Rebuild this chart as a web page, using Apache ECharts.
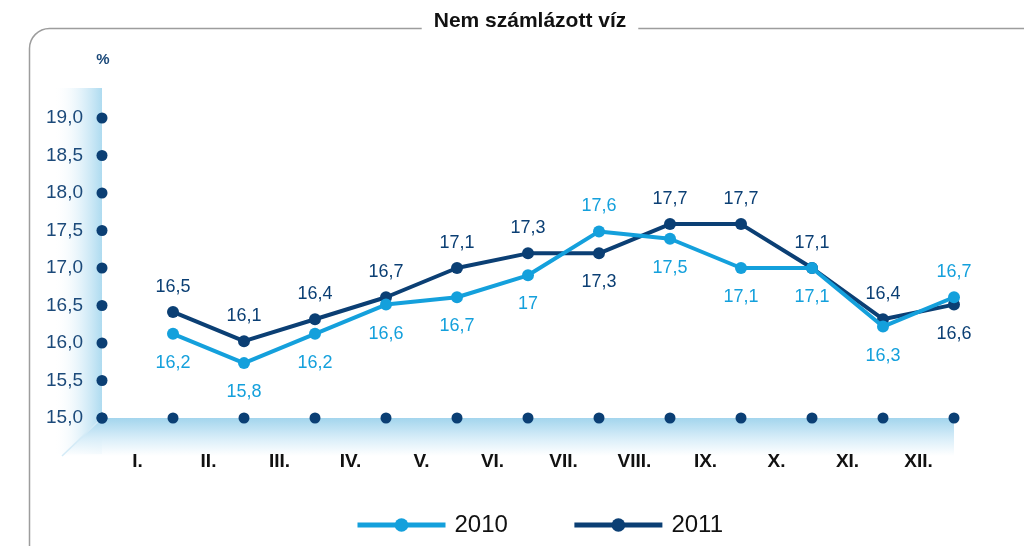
<!DOCTYPE html>
<html>
<head>
<meta charset="utf-8">
<script src="https://cdn.jsdelivr.net/npm/echarts@6/dist/echarts.min.js"></script>
<style>
html,body{margin:0;padding:0;background:#fff;}
#chart{width:1024px;height:546px;}
</style>
</head>
<body>
<div id="chart"></div>
<script>
// ---- data ----
const months = ['I.','II.','III.','IV.','V.','VI.','VII.','VIII.','IX.','X.','XI.','XII.'];
const values2010 = [16.2, 15.8, 16.2, 16.6, 16.7, 17, 17.6, 17.5, 17.1, 17.1, 16.3, 16.7];
const values2011 = [16.5, 16.1, 16.4, 16.7, 17.1, 17.3, 17.3, 17.7, 17.7, 17.1, 16.4, 16.6];
const yTicks = [15.0, 15.5, 16.0, 16.5, 17.0, 17.5, 18.0, 18.5, 19.0];
const titleText = 'Nem számlázott víz';
const unitText = '%';

// ---- style ----
const C2010 = '#14a0dc';
const C2011 = '#0b3f74';
const AXIS_BLUE = '#1c4a7a';
const FONT = '"Liberation Sans", Arial, sans-serif';
const GL = 102, GR = 70, GT = 118, GB = 128;
const W = 1024, H = 546;
const gx0 = GL, gx1 = W - GR, gy0 = GT, gy1 = H - GB;

const chart = echarts.init(document.getElementById('chart'), null, {renderer: 'canvas'});

function fmt(v){ return String(v).replace('.', ','); }

function seriesData(vals, other, isUpper){
  const out = [null];
  vals.forEach((v, i) => {
    const top = isUpper ? v >= other[i] : v > other[i];
    out.push({
      value: v,
      label: {
        position: top ? 'top' : 'bottom',
        distance: top ? 10 : 14
      }
    });
  });
  return out;
}

const axisDotsY = yTicks.map(t => [0, t]);
const axisDotsX = ['', ...months].map((m, i) => [i, yTicks[0]]);

const option = {
  animation: false,
  backgroundColor: '#fff',
  grid: {left: GL, right: GR, top: GT, bottom: GB, containLabel: false},
  legend: {
    data: ['2010', '2011'],
    left: 350,
    top: 508,
    itemWidth: 88,
    itemHeight: 17,
    itemGap: 64,
    lineStyle: {width: 5},
    textStyle: {fontFamily: FONT, fontSize: 24, color: '#111', padding: [0, 0, 0, 4]}
  },
  xAxis: [
    {
      type: 'category',
      data: ['', ...months],
      boundaryGap: false,
      axisLine: {show: false},
      axisTick: {show: false},
      axisLabel: {show: false},
      splitLine: {show: false}
    },
    {
      type: 'category',
      data: months,
      boundaryGap: true,
      position: 'bottom',
      axisLine: {show: false},
      axisTick: {show: false},
      splitLine: {show: false},
      axisLabel: {
        margin: 34,
        fontFamily: FONT, fontSize: 19, fontWeight: 'bold', color: '#111'
      }
    }
  ],
  yAxis: [
    {
      type: 'value',
      min: 15, max: 19, interval: 0.5,
      axisLine: {show: false},
      axisTick: {show: false},
      splitLine: {show: false},
      axisLabel: {
        margin: 19,
        fontFamily: FONT, fontSize: 19, color: AXIS_BLUE,
        formatter: v => v.toFixed(1).replace('.', ',')
      }
    },
    {
      type: 'value',
      min: 15.05, max: 19.15,
      show: false
    }
  ],
  graphic: [
    {type: 'rect', z: -10, silent: true,
      shape: {x: 29.5, y: 28.5, width: 1040, height: 540, r: 20},
      style: {fill: 'none', stroke: '#9d9d9d', lineWidth: 1.5}},
    {type: 'rect', z: -9, silent: true,
      shape: {x: gx0 - 48, y: gy0 - 30, width: 48, height: gy1 - gy0 + 66},
      style: {fill: new echarts.graphic.LinearGradient(0, 0, 1, 0, [
        {offset: 0, color: 'rgba(255,255,255,0)'},
        {offset: 0.6, color: 'rgba(215,237,248,0.8)'},
        {offset: 1, color: '#aedbf0'}])}},
    {type: 'polygon', z: -8, silent: true,
      shape: {points: [[gx0, gy1], [gx1, gy1], [gx1, gy1 + 38], [gx0 - 40, gy1 + 38]]},
      style: {fill: new echarts.graphic.LinearGradient(0, 0, 0, 1, [
        {offset: 0, color: '#a3d5ed'},
        {offset: 0.5, color: '#d5ecf8'},
        {offset: 1, color: 'rgba(255,255,255,0.9)'}])}},
    {type: 'line', z: -7, silent: true,
      shape: {x1: gx0, y1: gy1, x2: gx0 - 40, y2: gy1 + 38},
      style: {stroke: '#d4ebf7', lineWidth: 1.5}},
    {type: 'text', z: 10, silent: true,
      style: {text: titleText, x: 530, y: 21, align: 'center', verticalAlign: 'middle',
        font: 'bold 21px ' + FONT, fill: '#111', backgroundColor: '#fff', padding: [4, 12, 6, 12]}},
    {type: 'text', z: 10, silent: true,
      style: {text: unitText, x: gx0 + 1, y: 60, align: 'center', verticalAlign: 'middle',
        font: 'bold 15px ' + FONT, fill: AXIS_BLUE}}
  ],
  series: [
    {
      name: 'axisDotsY', type: 'scatter', xAxisIndex: 0, yAxisIndex: 0,
      data: axisDotsY, symbolSize: 11, itemStyle: {color: C2011, opacity: 1}, silent: true, z: 1
    },
    {
      name: 'axisDotsX', type: 'scatter', xAxisIndex: 0, yAxisIndex: 0,
      data: axisDotsX, symbolSize: 11, itemStyle: {color: C2011, opacity: 1}, silent: true, z: 1
    },
    {
      name: '2011', type: 'line', xAxisIndex: 0, yAxisIndex: 1,
      data: seriesData(values2011, values2010, true),
      symbol: 'circle', symbolSize: 12, showAllSymbol: true,
      lineStyle: {width: 4, color: C2011},
      itemStyle: {color: C2011},
      label: {show: true, formatter: p => fmt(p.value), fontFamily: FONT, fontSize: 18, color: C2011},
      z: 2
    },
    {
      name: '2010', type: 'line', xAxisIndex: 0, yAxisIndex: 1,
      data: seriesData(values2010, values2011, false),
      symbol: 'circle', symbolSize: 12, showAllSymbol: true,
      lineStyle: {width: 4, color: C2010},
      itemStyle: {color: C2010},
      label: {show: true, formatter: p => fmt(p.value), fontFamily: FONT, fontSize: 18, color: C2010},
      z: 3
    }
  ]
};
chart.setOption(option);
</script>
</body>
</html>
